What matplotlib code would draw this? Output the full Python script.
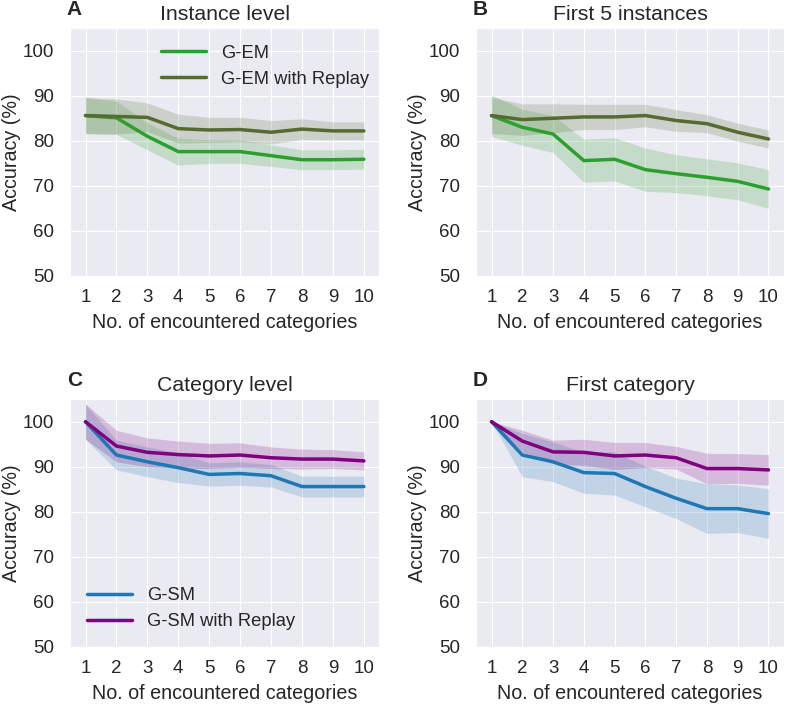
import numpy as np
import matplotlib
matplotlib.use("Agg")
import matplotlib.pyplot as plt
import seaborn as sns

sns.set_style("darkgrid")
plt.rcParams['font.family'] = ['Liberation Sans', 'DejaVu Sans']

steps = np.arange(1, 11)

# A: instance level
gem_inst = [85.6, 85.1, 81.0, 77.6, 77.6, 77.6, 76.7, 75.8, 75.8, 75.9]
gem_inst_sd = [4.0, 3.7, 3.0, 3.0, 2.6, 2.6, 2.4, 2.2, 2.2, 2.2]
gemr_inst = [85.6, 85.4, 85.2, 82.7, 82.4, 82.5, 81.9, 82.6, 82.2, 82.2]
gemr_inst_sd = [4.0, 3.9, 3.2, 3.2, 2.8, 2.7, 2.6, 2.3, 2.0, 2.0]

# B: first 5 instances
gem_first5 = [85.6, 83.0, 81.5, 75.6, 75.9, 73.6, 72.7, 71.9, 71.0, 69.3]
gem_first5_sd = [4.6, 4.0, 4.1, 4.8, 4.8, 4.8, 4.2, 4.1, 4.1, 4.3]
gemr_first5 = [85.6, 84.7, 85.0, 85.3, 85.3, 85.6, 84.5, 83.8, 81.9, 80.4]
gemr_first5_sd = [4.0, 3.5, 3.2, 2.8, 2.8, 2.5, 2.4, 2.0, 2.0, 2.0]

# C: category level
gsm_cat = [100.0, 92.6, 91.1, 89.8, 88.3, 88.5, 88.0, 85.6, 85.6, 85.6]
gsm_cat_sd = [3.9, 3.3, 3.3, 3.3, 2.6, 2.6, 2.5, 2.3, 2.3, 2.3]
gsmr_cat = [100.0, 94.6, 93.2, 92.7, 92.4, 92.6, 92.0, 91.7, 91.7, 91.3]
gsmr_cat_sd = [3.9, 3.5, 3.2, 3.0, 2.8, 2.7, 2.4, 2.2, 2.1, 2.0]

# D: first category
gsm_first = [100.0, 92.6, 91.1, 88.7, 88.5, 85.6, 83.0, 80.7, 80.7, 79.6]
gsm_first_sd = [0.0, 4.8, 4.4, 4.6, 4.8, 4.5, 4.5, 5.5, 5.3, 5.5]
gsmr_first = [100.0, 95.7, 93.3, 93.2, 92.4, 92.6, 92.0, 89.6, 89.6, 89.3]
gsmr_first_sd = [0.0, 2.4, 2.6, 2.9, 3.0, 2.8, 2.5, 3.4, 3.3, 3.4]

GREEN = '#2ca02c'
OLIVE = '#556b2f'
BLUE = '#1f77b4'
PURPLE = '#800080'

panels = [
    ('A', 'Instance level', [(gem_inst, gem_inst_sd, GREEN, 'G-EM'),
                             (gemr_inst, gemr_inst_sd, OLIVE, 'G-EM with Replay')]),
    ('B', 'First 5 instances', [(gem_first5, gem_first5_sd, GREEN, 'G-EM'),
                                (gemr_first5, gemr_first5_sd, OLIVE, 'G-EM with Replay')]),
    ('C', 'Category level', [(gsm_cat, gsm_cat_sd, BLUE, 'G-SM'),
                             (gsmr_cat, gsmr_cat_sd, PURPLE, 'G-SM with Replay')]),
    ('D', 'First category', [(gsm_first, gsm_first_sd, BLUE, 'G-SM'),
                             (gsmr_first, gsmr_first_sd, PURPLE, 'G-SM with Replay')]),
]

rects = [
    [0.089, 0.608, 0.393, 0.352],
    [0.605, 0.608, 0.391, 0.352],
    [0.089, 0.081, 0.393, 0.352],
    [0.605, 0.081, 0.391, 0.352],
]

fig = plt.figure(figsize=(7.87, 7.04), dpi=100)

for (letter, title, series), rect in zip(panels, rects):
    ax = fig.add_axes(rect)
    for mean, sd, color, label in series:
        mean = np.array(mean)
        sd = np.array(sd)
        ax.fill_between(steps, mean - sd, mean + sd, color=color, alpha=0.2, lw=0)
        ax.plot(steps, mean, color=color, lw=2.5, label=label)
    ax.set_xlim(0.5, 10.5)
    ax.set_ylim(50, 105)
    ax.set_xticks(steps)
    ax.set_yticks([50, 60, 70, 80, 90, 100])
    ax.tick_params(axis='x', labelsize=13.5, pad=6, colors='#262626')
    ax.tick_params(axis='y', labelsize=13.5, pad=8, colors='#262626')
    ax.set_xlabel('No. of encountered categories', fontsize=14.2, color='#262626', labelpad=5)
    ax.set_ylabel('Accuracy (%)', fontsize=14.2, color='#262626', labelpad=1)
    ax.set_title(title, fontsize=15.3, color='#262626', pad=6)
    ax.text(-0.01, 1.035, letter, transform=ax.transAxes, fontsize=15,
            fontweight='bold', va='bottom', ha='left')
    if letter == 'A':
        ax.legend(loc='upper center', bbox_to_anchor=(0.63, 1.0), frameon=False,
                  fontsize=13.2, handlelength=2.5)
    elif letter == 'C':
        ax.legend(loc='lower left', frameon=False, fontsize=13.2, handlelength=2.5)

fig.savefig('out.png', dpi=100)
